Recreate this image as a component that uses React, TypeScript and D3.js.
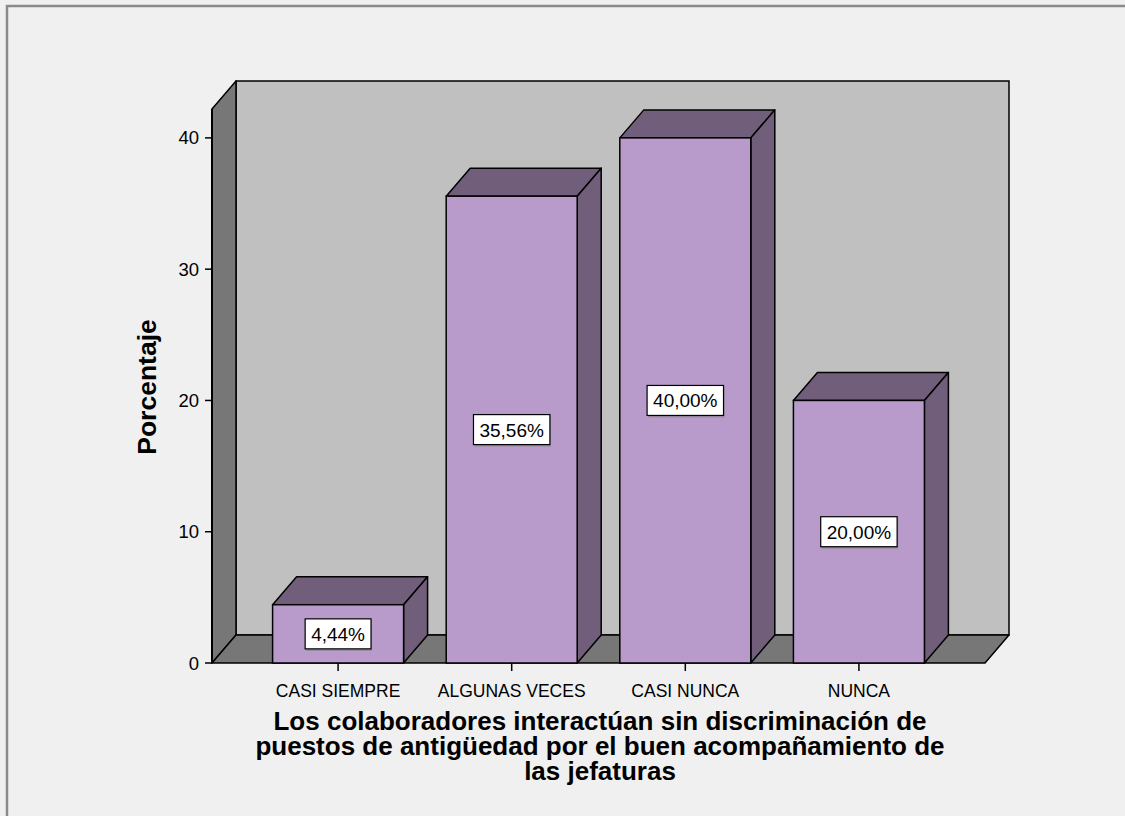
import React from "react";
import * as d3 from "d3";

const categories = ["CASI SIEMPRE", "ALGUNAS VECES", "CASI NUNCA", "NUNCA"];
const values = [4.44, 35.56, 40.0, 20.0];
const yTicks = [0, 10, 20, 30, 40];
const yTitle = "Porcentaje";
const xTitleLines = [
  "Los colaboradores interactúan sin discriminación de",
  "puestos de antigüedad por el buen acompañamiento de",
  "las jefaturas",
];

const W = 1125;
const H = 816;
const FONT = "'Liberation Sans', Arial, sans-serif";

export default function App() {
  const x0 = 212;
  const x1 = 985;
  const yBase = 663;
  const yTop = 109;
  const dx = 24;
  const dy = -28;

  const y = d3.scaleLinear().domain([0, 42.2]).range([yBase, yTop]);
  const x = d3
    .scaleBand<string>()
    .domain(categories)
    .range([x0, x1])
    .paddingInner(0.2455)
    .paddingOuter(0.349);
  const bw = x.bandwidth();
  const fmt = (v: number) => d3.format(".2f")(v).replace(".", ",") + "%";

  const leftWall = d3.path();
  leftWall.moveTo(x0, yBase);
  leftWall.lineTo(x0, yTop);
  leftWall.lineTo(x0 + dx, yTop + dy);
  leftWall.lineTo(x0 + dx, yBase + dy);
  leftWall.closePath();

  const floor = d3.path();
  floor.moveTo(x0, yBase);
  floor.lineTo(x1, yBase);
  floor.lineTo(x1 + dx, yBase + dy);
  floor.lineTo(x0 + dx, yBase + dy);
  floor.closePath();

  return (
    <div style={{ position: "fixed", left: 0, top: 0, width: W, height: H, overflow: "hidden" }}>
      <svg width={W} height={H} style={{ display: "block", background: "#f0f0f0" }}>
        <rect x={7} y={6} width={1300} height={1000} fill="#f0f0f0" stroke="#8a8a8a" strokeWidth={2.5} />
        {/* back wall */}
        <rect
          x={x0 + dx}
          y={yTop + dy}
          width={x1 - x0}
          height={yBase - yTop}
          fill="#c0c0c0"
          stroke="#000"
          strokeWidth={1.5}
        />
        <path d={leftWall.toString()} fill="#777777" stroke="#000" strokeWidth={1.5} strokeLinejoin="round" />
        <path d={floor.toString()} fill="#777777" stroke="#000" strokeWidth={1.5} strokeLinejoin="round" />
        {/* y axis */}
        <line x1={x0} x2={x0} y1={yTop} y2={yBase} stroke="#000" strokeWidth={2} />
        {yTicks.map((t) => (
          <g key={t}>
            <line x1={x0 - 7} x2={x0} y1={y(t)} y2={y(t)} stroke="#000" strokeWidth={1.5} />
            <text
              x={x0 - 13}
              y={y(t) + 6.5}
              textAnchor="end"
              fontFamily={FONT}
              fontSize={18.5}
              fill="#000"
            >
              {t}
            </text>
          </g>
        ))}
        {/* bars */}
        {categories.map((c, i) => {
          const bx = x(c) as number;
          const by = y(values[i]);
          const top = d3.path();
          top.moveTo(bx, by);
          top.lineTo(bx + dx, by + dy);
          top.lineTo(bx + bw + dx, by + dy);
          top.lineTo(bx + bw, by);
          top.closePath();
          const side = d3.path();
          side.moveTo(bx + bw, by);
          side.lineTo(bx + bw + dx, by + dy);
          side.lineTo(bx + bw + dx, yBase + dy);
          side.lineTo(bx + bw, yBase);
          side.closePath();
          const label = fmt(values[i]);
          const tw = (label.replace(/[^0-9]/g, "").length * 0.556 + 0.278 + 0.889) * 19;
          const cx = bx + bw / 2;
          const cy = (by + yBase) / 2;
          return (
            <g key={c}>
              <path d={top.toString()} fill="#705e7a" stroke="#000" strokeWidth={1.5} strokeLinejoin="round" />
              <path d={side.toString()} fill="#705e7a" stroke="#000" strokeWidth={1.5} strokeLinejoin="round" />
              <rect x={bx} y={by} width={bw} height={yBase - by} fill="#b89bcb" stroke="#000" strokeWidth={1.5} />
              <rect x={cx - tw / 2 - 5} y={cy - 14} width={tw + 12} height={31} fill="#777" opacity={0.5} />
              <rect x={cx - tw / 2 - 6} y={cy - 15} width={tw + 12} height={30} fill="#fff" stroke="#000" strokeWidth={1.2} />
              <text x={cx} y={cy + 7} textAnchor="middle" fontFamily={FONT} fontSize={19} fill="#000">
                {label}
              </text>
              <line x1={cx} x2={cx} y1={yBase} y2={yBase + 8} stroke="#000" strokeWidth={1.5} />
              <text x={cx} y={yBase + 34} textAnchor="middle" fontFamily={FONT} fontSize={17.5} fill="#000">
                {c}
              </text>
            </g>
          );
        })}
        {/* y title */}
        <text
          transform={`translate(${156},${387}) rotate(-90)`}
          textAnchor="middle"
          fontFamily={FONT}
          fontWeight="bold"
          fontSize={26.5}
          fill="#000"
        >
          {yTitle}
        </text>
        {/* x title */}
        {xTitleLines.map((l, i) => (
          <text
            key={i}
            x={600}
            y={730 + i * 25}
            textAnchor="middle"
            fontFamily={FONT}
            fontWeight="bold"
            fontSize={26}
            fill="#000"
          >
            {l}
          </text>
        ))}
      </svg>
    </div>
  );
}
